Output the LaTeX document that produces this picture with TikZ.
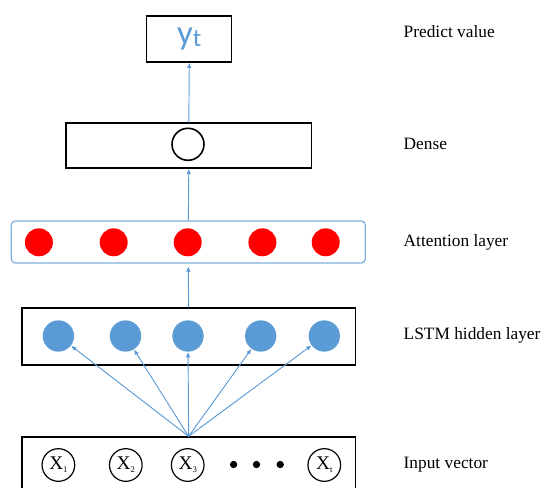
\documentclass[tikz,border=0pt]{standalone}
\usepackage{fontspec}
\setmainfont{Liberation Serif}
\newfontfamily\ytfont{Carlito}
\usepackage{xcolor}
\usetikzlibrary{arrows.meta, positioning}
\definecolor{lblue}{RGB}{91,155,213}
\definecolor{lred}{RGB}{255,0,0}
\tikzset{
  layer/.style   = {rectangle, draw, line width=1pt, inner sep=0pt},
  attnbox/.style = {rectangle, draw=lblue!80, line width=0.9pt,
                    rounded corners=3pt, inner sep=0pt},
  hunit/.style   = {circle, fill=lblue, inner sep=0pt, minimum size=23.5pt},
  aunit/.style   = {circle, fill=lred, inner sep=0pt, minimum size=21pt},
  xunit/.style   = {circle, draw, line width=0.9pt, inner sep=0pt,
                    minimum size=24.5pt, font=\fontsize{14.5}{14.5}\selectfont},
  dot/.style     = {circle, fill, inner sep=0pt, minimum size=5.5pt},
  caption/.style = {anchor=west, font=\fontsize{13}{15}\selectfont},
  arr/.style     = {-{Latex[length=4pt,width=3.5pt]}, lblue, line width=0.7pt},
}
\newcommand{\xsub}[1]{X\raisebox{-0.35ex}{\fontsize{6.5}{6.5}\selectfont #1}}

\begin{document}
\begin{tikzpicture}[x=0.75pt, y=-0.75pt]
\clip (0,0) rectangle (545,488);
\useasboundingbox (0,0) rectangle (545,488);

% ── Output ───────────────────────────────────────────────
\node[layer, minimum width=63.75pt, minimum height=34.5pt] (ytbox) at (189.3,39)
      {\ytfont\fontsize{26}{26}\selectfont\color{lblue}y\raisebox{-0.15ex}{\fontsize{19}{19}\selectfont t}};

% ── Dense ────────────────────────────────────────────────
\node[layer, minimum width=184pt, minimum height=33.75pt] (dense) at (188.8,145.5) {};
\node[circle, draw, line width=1.2pt, minimum size=24pt, inner sep=0pt] (d1) at (188,144.3) {};

% ── Attention layer ──────────────────────────────────────
\node[attnbox, minimum width=265.5pt, minimum height=31.5pt] (attn) at (188.3,242) {};
\foreach \i/\x in {1/38.9, 2/113.7, 3/187.7, 4/262.4, 5/325.7}
  \node[aunit] (a\i) at (\x,242.3) {};

% ── LSTM hidden layer ────────────────────────────────────
\node[layer, minimum width=250pt, minimum height=42.75pt] (lstm) at (188.6,336.5) {};
\foreach \i/\x in {1/58.4, 2/125.5, 3/188, 4/260.7, 5/324.3}
  \node[hunit] (h\i) at (\x,336) {};

% ── Input vector ─────────────────────────────────────────
\node[layer, minimum width=250pt, minimum height=45pt] (inp) at (188.6,467) {};
\node[xunit] (x1) at (58.4,465)  {\xsub{1}};
\node[xunit] (x2) at (125.8,465) {\xsub{2}};
\node[xunit] (x3) at (187.7,465) {\xsub{3}};
\node[xunit] (xt) at (324.3,465) {\xsub{t}};
\foreach \i/\x in {1/233.6, 2/256.5, 3/280.2}
  \node[dot] (dot\i) at (\x,464.5) {};

% ── Arrows ───────────────────────────────────────────────
\draw[arr] (dense.north) -- (ytbox.south);
\draw[arr] (attn.north)  -- (dense.south);
\draw[arr] (lstm.north)  -- ([yshift=-2pt]attn.south);
\foreach \i in {1,...,5}
  \draw[arr] (inp.north) -- (h\i);

% ── Layer captions ───────────────────────────────────────
\node[caption] (c1) at (399,32)  {Predict value};
\node[caption] (c2) at (399,144) {Dense};
\node[caption] (c3) at (399,242) {Attention layer};
\node[caption] (c4) at (399,335) {LSTM hidden layer};
\node[caption] (c5) at (399,465) {Input vector};

\end{tikzpicture}
\end{document}
